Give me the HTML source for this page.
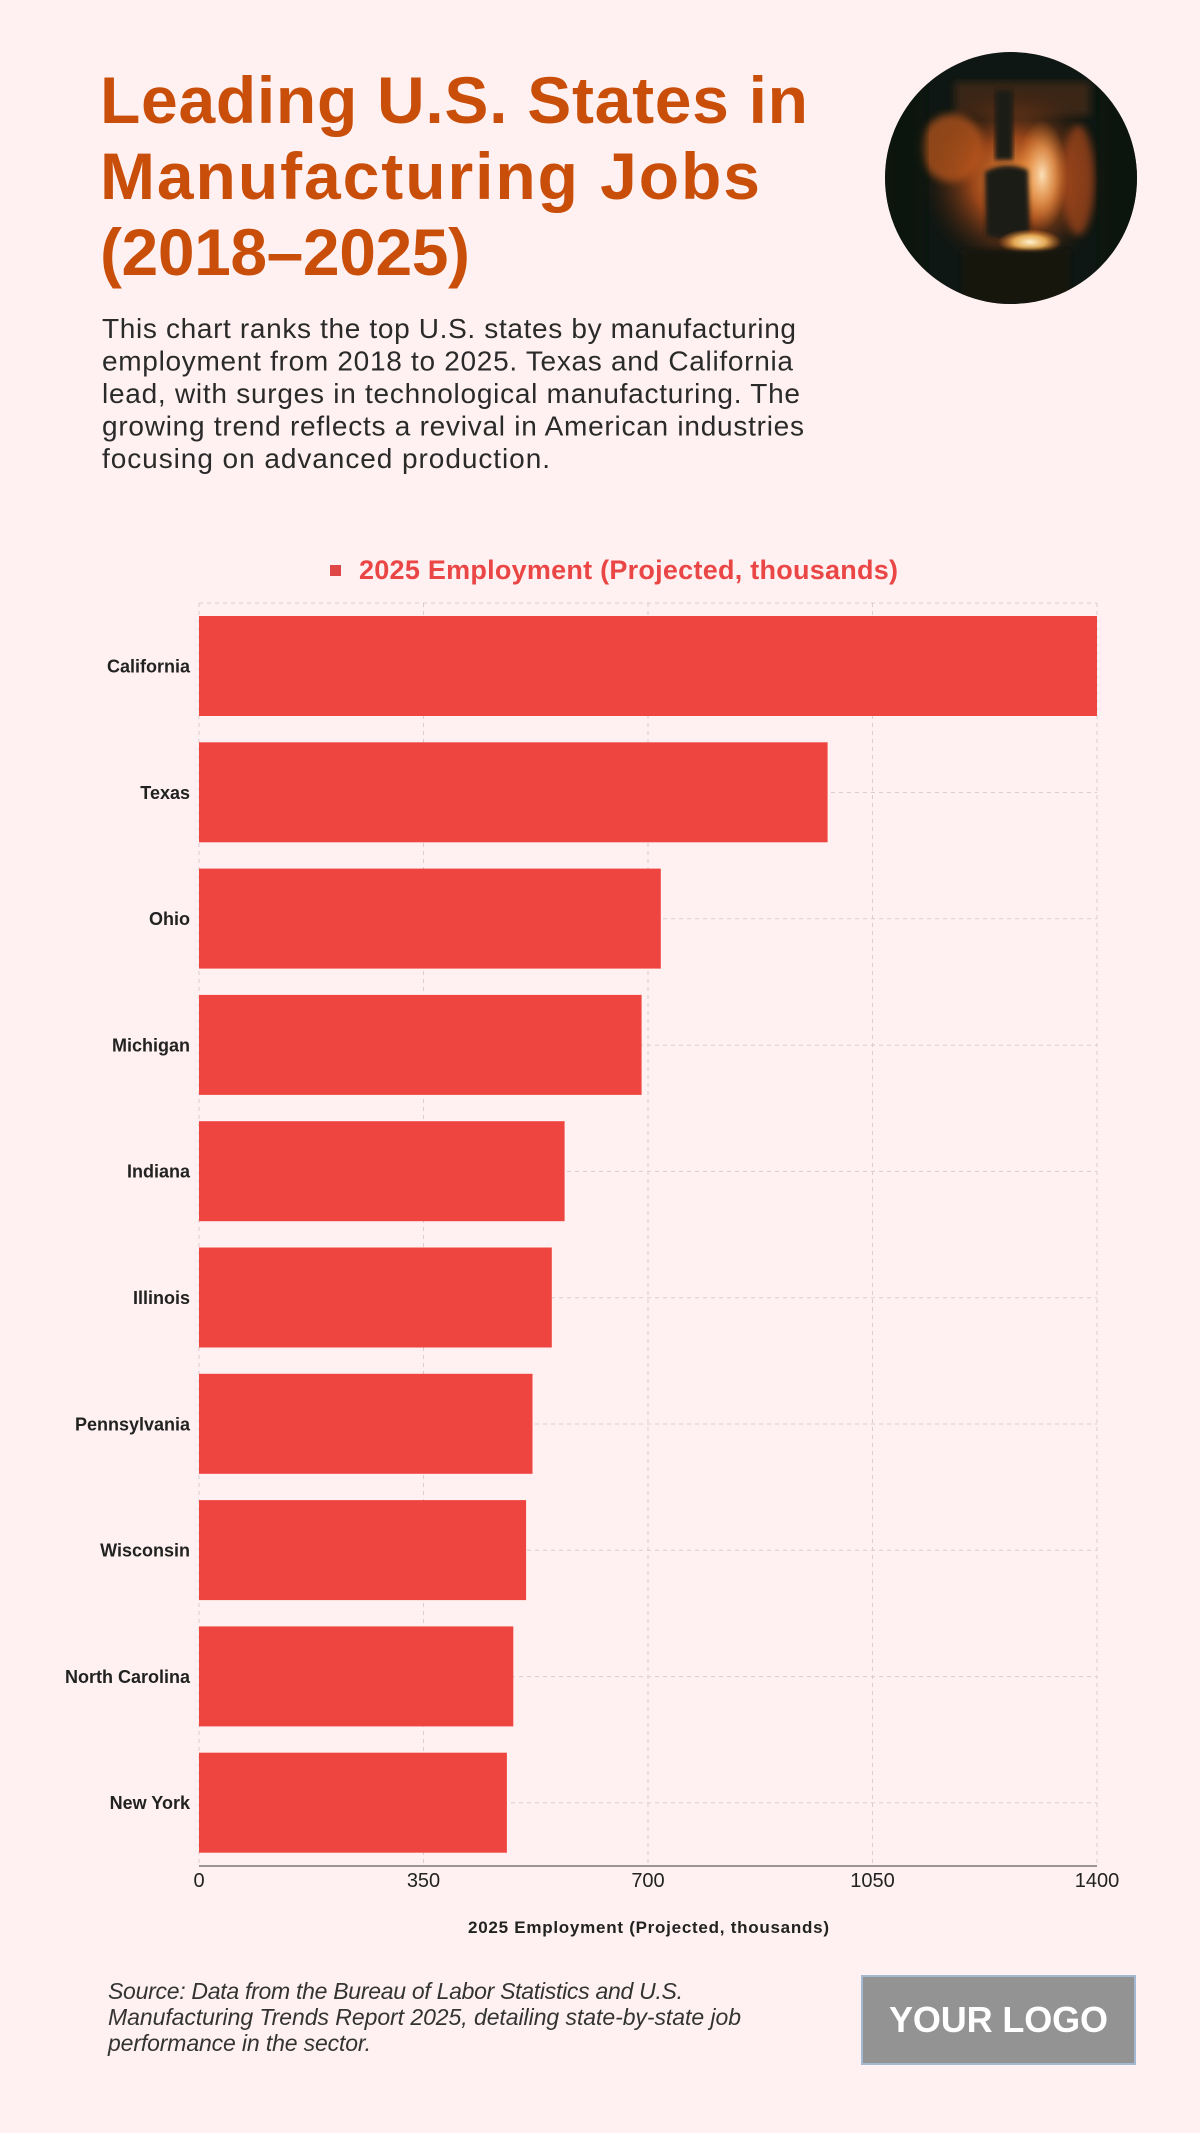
<!DOCTYPE html>
<html>
<head>
<meta charset="utf-8">
<style>
  html, body { margin: 0; padding: 0; background: #FFF1F1; }
  body { width: 1200px; height: 2133px; overflow: hidden; }
  svg { display: block; }
  text { font-family: "Liberation Sans", "DejaVu Sans", sans-serif; }
</style>
</head>
<body>
<svg width="1200" height="2133" viewBox="0 0 1200 2133" xmlns="http://www.w3.org/2000/svg">
  <defs>
    <clipPath id="circ"><circle cx="1011" cy="178" r="126"/></clipPath>
    <radialGradient id="glow" cx="0.5" cy="0.5" r="0.5">
      <stop offset="0" stop-color="#ff9d45" stop-opacity="0.95"/>
      <stop offset="0.45" stop-color="#c9561c" stop-opacity="0.75"/>
      <stop offset="1" stop-color="#3a1a0c" stop-opacity="0"/>
    </radialGradient>
    <radialGradient id="spark" cx="0.5" cy="0.5" r="0.5">
      <stop offset="0" stop-color="#ffe7c0" stop-opacity="0.95"/>
      <stop offset="0.5" stop-color="#ffb466" stop-opacity="0.6"/>
      <stop offset="1" stop-color="#ff8a30" stop-opacity="0"/>
    </radialGradient>
    <radialGradient id="hot" cx="0.5" cy="0.5" r="0.5">
      <stop offset="0" stop-color="#fff3cf"/>
      <stop offset="0.5" stop-color="#ffc060" stop-opacity="0.85"/>
      <stop offset="1" stop-color="#ff7a20" stop-opacity="0"/>
    </radialGradient>
    <filter id="blur4"><feGaussianBlur stdDeviation="4"/></filter>
    <filter id="blur2"><feGaussianBlur stdDeviation="2"/></filter>
  </defs>

  <!-- Title -->
  <g fill="#C94E0A" font-weight="bold" font-size="66">
    <text x="100" y="123" textLength="708" lengthAdjust="spacing">Leading U.S. States in</text>
    <text x="100" y="199" textLength="660" lengthAdjust="spacing">Manufacturing Jobs</text>
    <text x="100" y="275" textLength="370" lengthAdjust="spacing">(2018–2025)</text>
  </g>

  <!-- Description -->
  <g fill="#2a2a2a" font-size="28">
    <text x="102" y="338" textLength="694" lengthAdjust="spacing">This chart ranks the top U.S. states by manufacturing</text>
    <text x="102" y="370.5" textLength="691" lengthAdjust="spacing">employment from 2018 to 2025. Texas and California</text>
    <text x="102" y="403" textLength="698" lengthAdjust="spacing">lead, with surges in technological manufacturing. The</text>
    <text x="102" y="435.5" textLength="702" lengthAdjust="spacing">growing trend reflects a revival in American industries</text>
    <text x="102" y="468" textLength="448" lengthAdjust="spacing">focusing on advanced production.</text>
  </g>

  <!-- Circle image -->
  <g clip-path="url(#circ)">
    <rect x="880" y="48" width="265" height="262" fill="#0e1713"/>
    <rect x="955" y="82" width="135" height="34" fill="#3b2519" filter="url(#blur4)"/>
    <ellipse cx="1015" cy="180" rx="95" ry="95" fill="url(#glow)"/>
    <ellipse cx="952" cy="148" rx="32" ry="34" fill="#b9561f" opacity="0.75" filter="url(#blur4)"/>
    <ellipse cx="1078" cy="180" rx="16" ry="55" fill="#a9481a" opacity="0.7" filter="url(#blur4)"/>
    <ellipse cx="1042" cy="175" rx="26" ry="55" fill="url(#spark)"/>
    <rect x="995" y="90" width="18" height="70" fill="#1e1a16" filter="url(#blur2)"/>
    <path d="M985 172 Q1005 160 1028 170 L1030 235 Q1008 242 986 236 Z" fill="#1f1b18" filter="url(#blur2)"/>
    <ellipse cx="1030" cy="242" rx="32" ry="13" fill="url(#hot)"/>
    <rect x="962" y="250" width="108" height="55" fill="#171411" filter="url(#blur2)"/>
    <rect x="885" y="48" width="40" height="262" fill="#0c1310" opacity="0.8" filter="url(#blur4)"/>
    <rect x="1100" y="48" width="45" height="262" fill="#0c1310" opacity="0.8" filter="url(#blur4)"/>
  </g>

  <!-- Legend -->
  <rect x="330" y="565" width="11" height="11" fill="#E04848"/>
  <text x="359" y="579" font-size="27" font-weight="bold" fill="#EA4646" textLength="539" lengthAdjust="spacing">2025 Employment (Projected, thousands)</text>

  <!-- Grid -->
  <g stroke="#dacdcd" stroke-width="1" stroke-dasharray="4 4" fill="none">
    <line x1="199" y1="603" x2="199" y2="1866"/>
    <line x1="423.5" y1="603" x2="423.5" y2="1866"/>
    <line x1="648" y1="603" x2="648" y2="1866"/>
    <line x1="872.5" y1="603" x2="872.5" y2="1866"/>
    <line x1="1097" y1="603" x2="1097" y2="1866"/>
    <line x1="199" y1="603" x2="1097" y2="603"/>
    <line x1="199" y1="666.2" x2="1097" y2="666.2"/>
    <line x1="199" y1="792.5" x2="1097" y2="792.5"/>
    <line x1="199" y1="918.8" x2="1097" y2="918.8"/>
    <line x1="199" y1="1045.1" x2="1097" y2="1045.1"/>
    <line x1="199" y1="1171.4" x2="1097" y2="1171.4"/>
    <line x1="199" y1="1297.7" x2="1097" y2="1297.7"/>
    <line x1="199" y1="1424" x2="1097" y2="1424"/>
    <line x1="199" y1="1550.3" x2="1097" y2="1550.3"/>
    <line x1="199" y1="1676.6" x2="1097" y2="1676.6"/>
    <line x1="199" y1="1802.9" x2="1097" y2="1802.9"/>
  </g>

  <!-- Bars -->
  <g fill="#EF4540">
    <rect x="199" y="616" width="898" height="100"/>
    <rect x="199" y="742.3" width="628.6" height="100"/>
    <rect x="199" y="868.6" width="461.8" height="100"/>
    <rect x="199" y="994.9" width="442.6" height="100"/>
    <rect x="199" y="1121.2" width="365.6" height="100"/>
    <rect x="199" y="1247.5" width="352.8" height="100"/>
    <rect x="199" y="1373.8" width="333.5" height="100"/>
    <rect x="199" y="1500.1" width="327.1" height="100"/>
    <rect x="199" y="1626.4" width="314.3" height="100"/>
    <rect x="199" y="1752.7" width="307.9" height="100"/>
  </g>

  <!-- Axis line -->
  <line x1="199" y1="1866" x2="1097" y2="1866" stroke="#7d7575" stroke-width="1.5"/>

  <!-- Category labels -->
  <g font-size="18" font-weight="bold" fill="#222" text-anchor="end">
    <text x="190" y="672.5">California</text>
    <text x="190" y="798.8">Texas</text>
    <text x="190" y="925.1">Ohio</text>
    <text x="190" y="1051.4">Michigan</text>
    <text x="190" y="1177.7">Indiana</text>
    <text x="190" y="1304">Illinois</text>
    <text x="190" y="1430.3">Pennsylvania</text>
    <text x="190" y="1556.6">Wisconsin</text>
    <text x="190" y="1682.9">North Carolina</text>
    <text x="190" y="1809.2">New York</text>
  </g>

  <!-- Tick labels -->
  <g font-size="20" fill="#222" text-anchor="middle">
    <text x="199" y="1887">0</text>
    <text x="423.5" y="1887">350</text>
    <text x="648" y="1887">700</text>
    <text x="872.5" y="1887">1050</text>
    <text x="1097" y="1887">1400</text>
  </g>

  <!-- Axis title -->
  <text x="468" y="1933" font-size="17" font-weight="bold" fill="#222" textLength="361" lengthAdjust="spacing">2025 Employment (Projected, thousands)</text>

  <!-- Footer source -->
  <g font-size="23" font-style="italic" fill="#333">
    <text x="108" y="1999" textLength="575" lengthAdjust="spacing">Source: Data from the Bureau of Labor Statistics and U.S.</text>
    <text x="108" y="2025" textLength="633" lengthAdjust="spacing">Manufacturing Trends Report 2025, detailing state-by-state job</text>
    <text x="108" y="2051" textLength="263" lengthAdjust="spacing">performance in the sector.</text>
  </g>

  <!-- Logo -->
  <rect x="862" y="1976" width="273" height="88" fill="#939393" stroke="#a3b9d3" stroke-width="2"/>
  <text x="889" y="2032" font-size="36" font-weight="bold" fill="#ffffff" textLength="219" lengthAdjust="spacing">YOUR LOGO</text>
</svg>
</body>
</html>
